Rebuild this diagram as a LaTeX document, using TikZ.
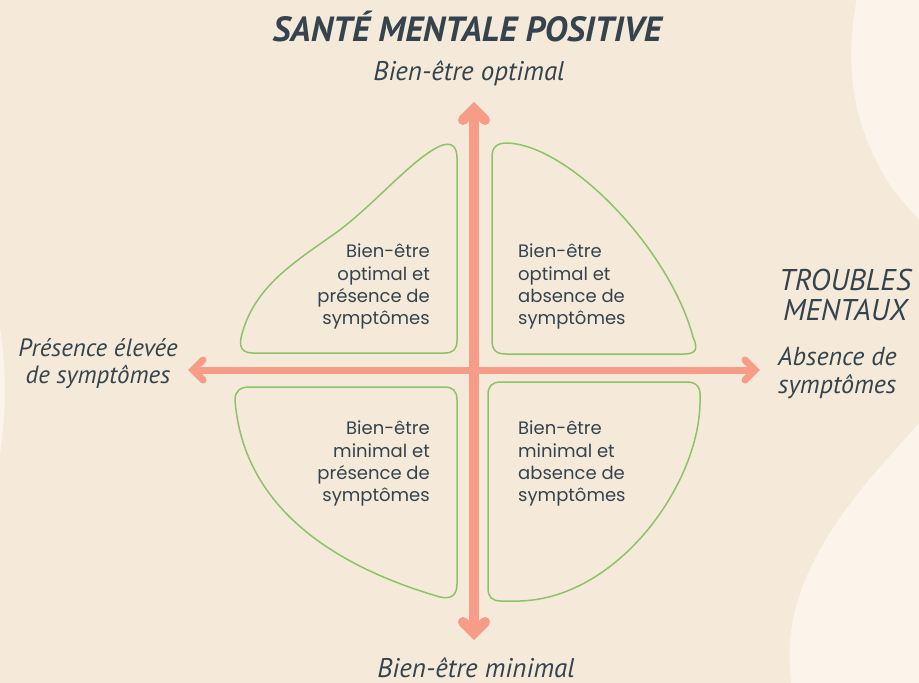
\documentclass[tikz,border=0pt]{standalone}
\usepackage{fontspec}
\setmainfont{Poppins}
\newfontfamily\handfont{PT Sans}
\usetikzlibrary{calc}
\definecolor{bg}{HTML}{F5EAD9}
\definecolor{wave}{HTML}{FCF4EA}
\definecolor{salmon}{HTML}{F79C86}
\definecolor{leaf}{HTML}{8DC26A}
\definecolor{ink}{HTML}{34434D}
\begin{document}
\begin{tikzpicture}[x=1pt,y=-1pt,
  quad/.style={draw=leaf, line width=1.5pt, line join=round},
  quadtext/.style={font=\fontsize{18}{22.3}\selectfont, text=ink, inner sep=0pt},
  handtext/.style={font=\handfont\itshape\fontsize{26}{28}\selectfont, text=ink, inner sep=0pt},
  titletext/.style={font=\handfont\itshape\bfseries\fontsize{35}{36}\selectfont, text=ink, inner sep=0pt},
  axisline/.style={draw=salmon, line cap=butt},
  headline/.style={draw=salmon, line join=miter, line cap=round}]
\useasboundingbox (0,0) rectangle (919,683);
\fill[bg] (0,0) rectangle (919,683);
% light waves
\fill[wave] (857,-2) .. controls (843,70) and (855,130) .. (890,185)
  .. controls (905,205) and (915,215) .. (930,232) -- (930,-2) -- cycle;
\fill[wave] (930,410) .. controls (885,465) and (800,540) .. (790,640)
  .. controls (789,660) and (790,675) .. (792,690) -- (930,690) -- cycle;
\fill[wave] (-2,318) .. controls (7,360) and (7,420) .. (-2,465) -- cycle;

% quadrant shapes
\draw[quad] (457,158) -- (457,341) .. controls (457,349) and (453,353) .. (445,353)
  -- (253,353) .. controls (243,353) and (239,348) .. (241,338)
  .. controls (252,290) and (290,265) .. (330,237)
  .. controls (370,210) and (410,160) .. (440,146)
  .. controls (452,141) and (457,147) .. (457,158) -- cycle;
\draw[quad] (492,157) .. controls (492,147) and (497,143) .. (507,143)
  .. controls (570,145) and (670,250) .. (693,337)
  .. controls (699,350) and (695,354) .. (684,354)
  -- (506,354) .. controls (496,354) and (492,350) .. (492,340) -- cycle;
\draw[quad] (235,400) .. controls (235,391) and (240,387) .. (250,387)
  -- (444,387) .. controls (453,387) and (457,391) .. (457,400)
  -- (457,584) .. controls (457,594) and (452,600) .. (440,597)
  .. controls (330,565) and (243,505) .. (235,400) -- cycle;
\draw[quad] (488,395) .. controls (488,386) and (492,382) .. (501,382)
  -- (687,382) .. controls (697,382) and (701,388) .. (700,398)
  .. controls (702,480) and (620,598) .. (520,601)
  -- (501,601) .. controls (492,601) and (488,597) .. (488,588) -- cycle;

% quadrant texts
\node[quadtext, align=right, anchor=north east] (ul) at (430,244) {Bien-être\\optimal et\\présence de\\symptômes};
\node[quadtext, align=left, anchor=north west] (ur) at (518,244) {Bien-être\\optimal et\\absence de\\symptômes};
\node[quadtext, align=right, anchor=north east] (ll) at (430,421) {Bien-être\\minimal et\\présence de\\symptômes};
\node[quadtext, align=left, anchor=north west] (lr) at (518,421) {Bien-être\\minimal et\\absence de\\symptômes};

% axes
\coordinate (vtop) at (474,109);
\coordinate (vbot) at (474,633);
\coordinate (hleft) at (193,370);
\coordinate (hright) at (755,370);
\draw[axisline, line width=7pt] (hleft) -- (hright);
\draw[axisline, line width=10pt] (vtop) -- (vbot);
\draw[headline, line width=10pt] ($(vtop)+(-11,11)$) -- (vtop) -- ($(vtop)+(11,11)$);
\draw[headline, line width=10pt] ($(vbot)+(-11,-11)$) -- (vbot) -- ($(vbot)+(11,-11)$);
\draw[headline, line width=7pt] ($(hleft)+(10,-10)$) -- (hleft) -- ($(hleft)+(10,10)$);
\draw[headline, line width=7pt] ($(hright)+(-10,-10)$) -- (hright) -- ($(hright)+(-10,10)$);

% labels
\node[titletext, anchor=base] (title) at (467,41) {SANTÉ MENTALE POSITIVE};
\node[handtext, font=\handfont\itshape\fontsize{27}{28}\selectfont, anchor=base] (top) at (469,80) {Bien-être optimal};
\node[handtext, font=\handfont\itshape\fontsize{27}{28}\selectfont, anchor=base] (bottom) at (476,677) {Bien-être minimal};
\node[handtext, font=\handfont\itshape\fontsize{25}{27}\selectfont, align=center, anchor=north] (left) at (98,338) {Présence élevée\\de symptômes};
\node[handtext, font=\handfont\itshape\fontsize{30}{30}\selectfont, align=center, anchor=north] (troubles) at (845,269) {TROUBLES\\MENTAUX};
\node[handtext, align=left, anchor=north west] (right) at (778,347) {Absence de\\symptômes};
\end{tikzpicture}
\end{document}
